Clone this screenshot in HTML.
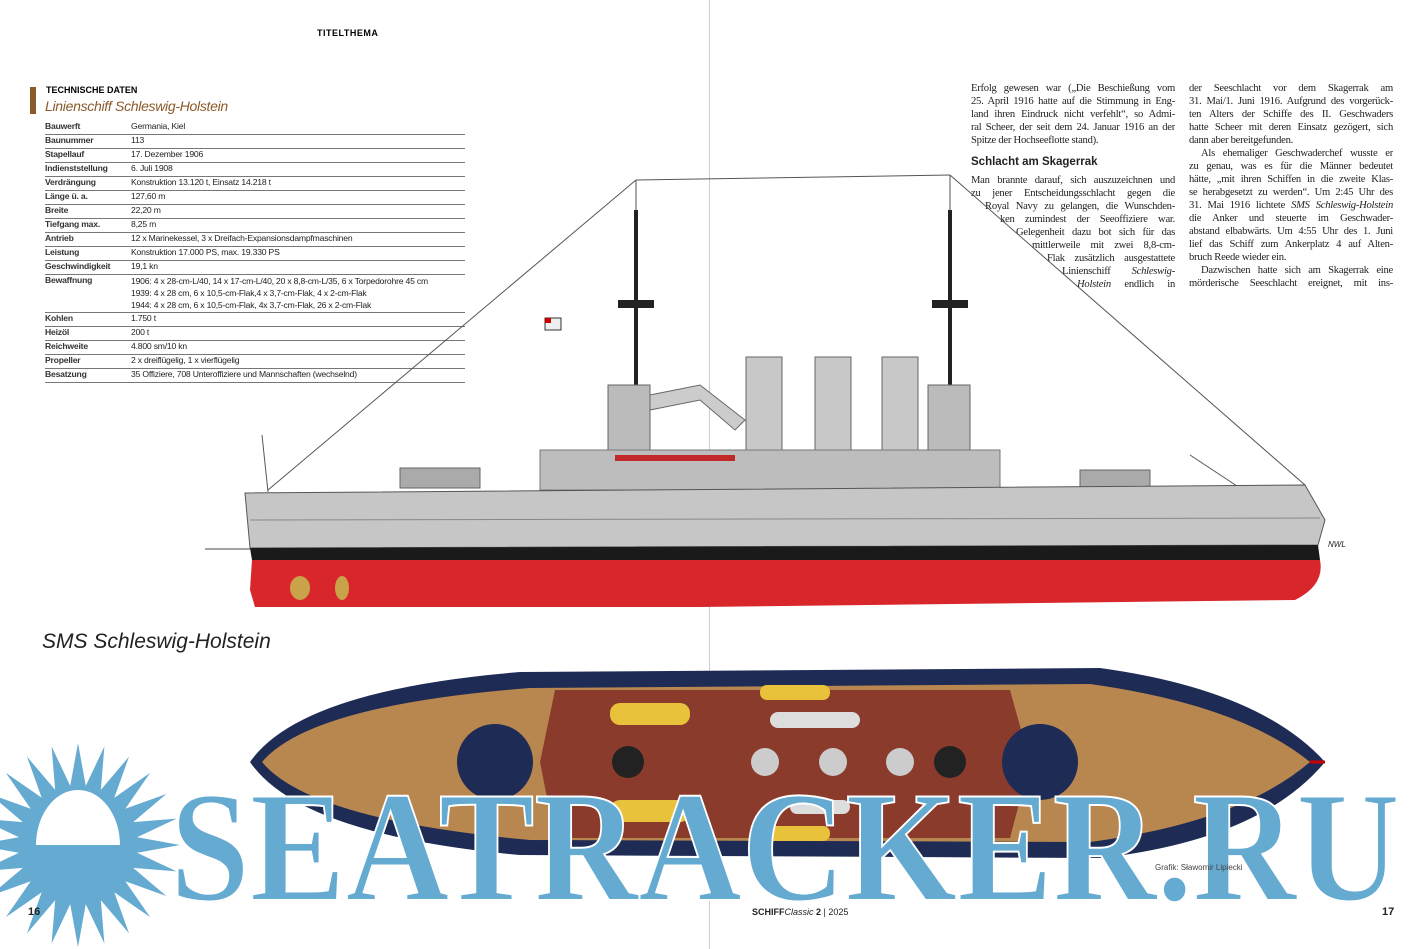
<!DOCTYPE html>
<html><head><meta charset="utf-8"><style>
body{margin:0;width:1423px;height:949px;overflow:hidden;background:#fff;font-family:"Liberation Sans",sans-serif;position:relative}
.a{position:absolute}
table{border-collapse:collapse;font-size:8.6px;color:#222;letter-spacing:-0.2px}
td{padding:0;height:13px;border-bottom:1px solid #777;vertical-align:top;white-space:nowrap}
td.k{width:86px;font-weight:bold;color:#333}
.col{font-family:"Liberation Serif",serif;font-size:10.6px;line-height:13px;color:#222;letter-spacing:-0.25px}
.col div{height:13px;overflow:hidden;text-align:justify;text-align-last:justify}
.col div.l{text-align-last:left}
</style></head><body>
<div class="a" style="left:709px;top:0;width:1px;height:949px;background:#ccc"></div>
<div class="a" style="left:317px;top:28px;font-size:9px;font-weight:bold;letter-spacing:.5px">TITELTHEMA</div>
<div class="a" style="left:30px;top:87px;width:6px;height:27px;background:#8a5a2a"></div>
<div class="a" style="left:46px;top:85px;font-size:9px;font-weight:bold">TECHNISCHE DATEN</div>
<div class="a" style="left:45px;top:98px;font-size:14px;font-style:italic;color:#8a5a2a;letter-spacing:-0.3px">Linienschiff Schleswig-Holstein</div>
<table class="a" style="left:45px;top:121px;width:420px">
<tr><td class="k">Bauwerft</td><td>Germania, Kiel</td></tr>
<tr><td class="k">Baunummer</td><td>113</td></tr>
<tr><td class="k">Stapellauf</td><td>17. Dezember 1906</td></tr>
<tr><td class="k">Indienststellung</td><td>6. Juli 1908</td></tr>
<tr><td class="k">Verdrängung</td><td>Konstruktion 13.120 t, Einsatz 14.218 t</td></tr>
<tr><td class="k">Länge ü. a.</td><td>127,60 m</td></tr>
<tr><td class="k">Breite</td><td>22,20 m</td></tr>
<tr><td class="k">Tiefgang max.</td><td>8,25 m</td></tr>
<tr><td class="k">Antrieb</td><td>12 x Marinekessel, 3 x Dreifach-Expansionsdampfmaschinen</td></tr>
<tr><td class="k">Leistung</td><td>Konstruktion 17.000 PS, max. 19.330 PS</td></tr>
<tr><td class="k">Geschwindigkeit</td><td>19,1 kn</td></tr>
<tr><td class="k" style="height:37px">Bewaffnung</td><td style="line-height:12px">1906: 4 x 28-cm-L/40, 14 x 17-cm-L/40, 20 x 8,8-cm-L/35, 6 x Torpedorohre 45 cm<br>1939: 4 x 28 cm, 6 x 10,5-cm-Flak,4 x 3,7-cm-Flak, 4 x 2-cm-Flak<br>1944: 4 x 28 cm, 6 x 10,5-cm-Flak, 4x 3,7-cm-Flak, 26 x 2-cm-Flak</td></tr>
<tr><td class="k">Kohlen</td><td>1.750 t</td></tr>
<tr><td class="k">Heizöl</td><td>200 t</td></tr>
<tr><td class="k">Reichweite</td><td>4.800 sm/10 kn</td></tr>
<tr><td class="k">Propeller</td><td>2 x dreiflügelig, 1 x vierflügelig</td></tr>
<tr><td class="k">Besatzung</td><td>35 Offiziere, 708 Unteroffiziere und Mannschaften (wechselnd)</td></tr>
</table>
<div class="a col" style="left:971px;top:82px;width:204px">
<div>Erfolg gewesen war („Die Beschießung vom</div>
<div>25. April 1916 hatte auf die Stimmung in Eng-</div>
<div>land ihren Eindruck nicht verfehlt“, so Admi-</div>
<div>ral Scheer, der seit dem 24. Januar 1916 an der</div>
<div class="l">Spitze der Hochseeflotte stand).</div>
</div>
<div class="a" style="left:971px;top:156px;font-size:11.5px;font-weight:bold;color:#222">Schlacht am Skagerrak</div>
<div class="a col" style="left:971px;top:174px;width:204px">
<div>Man brannte darauf, sich auszuzeichnen und</div>
<div>zu jener Entscheidungsschlacht gegen die</div>
<div style="margin-left:14px">Royal Navy zu gelangen, die Wunschden-</div>
<div style="margin-left:29px">ken zumindest der Seeoffiziere war.</div>
<div style="margin-left:45px">Gelegenheit dazu bot sich für das</div>
<div style="margin-left:61px">mittlerweile mit zwei 8,8-cm-</div>
<div style="margin-left:76px">Flak zusätzlich ausgestattete</div>
<div style="margin-left:91px">Linienschiff <i>Schleswig-</i></div>
<div style="margin-left:106px"><i>Holstein</i> endlich in</div>
</div>
<div class="a col" style="left:1189px;top:82px;width:204px">
<div>der Seeschlacht vor dem Skagerrak am</div>
<div>31. Mai/1. Juni 1916. Aufgrund des vorgerück-</div>
<div>ten Alters der Schiffe des II. Geschwaders</div>
<div>hatte Scheer mit deren Einsatz gezögert, sich</div>
<div class="l">dann aber bereitgefunden.</div>
<div style="padding-left:12px">Als ehemaliger Geschwaderchef wusste er</div>
<div>zu genau, was es für die Männer bedeutet</div>
<div>hätte, „mit ihren Schiffen in die zweite Klas-</div>
<div>se herabgesetzt zu werden“. Um 2:45 Uhr des</div>
<div>31. Mai 1916 lichtete <i>SMS Schleswig-Holstein</i></div>
<div>die Anker und steuerte im Geschwader-</div>
<div>abstand elbabwärts. Um 4:55 Uhr des 1. Juni</div>
<div>lief das Schiff zum Ankerplatz 4 auf Alten-</div>
<div class="l">bruch Reede wieder ein.</div>
<div style="padding-left:12px">Dazwischen hatte sich am Skagerrak eine</div>
<div>mörderische Seeschlacht ereignet, mit ins-</div>
</div>
<div class="a" style="left:42px;top:630px;font-size:21px;font-style:italic;color:#222">SMS Schleswig-Holstein</div>

<svg class="a" style="left:0;top:0" width="1423" height="949">
<g stroke="#555" stroke-width="1" fill="none">
<line x1="636" y1="180" x2="268" y2="490"/><line x1="636" y1="180" x2="950" y2="175"/>
<line x1="950" y1="175" x2="1305" y2="485"/>
<line x1="636" y1="180" x2="636" y2="470"/><line x1="950" y1="175" x2="950" y2="470"/>
<line x1="262" y1="435" x2="268" y2="492"/><line x1="1190" y1="455" x2="1240" y2="488"/>
</g>
<g stroke="#222" stroke-width="4"><line x1="636" y1="210" x2="636" y2="420"/><line x1="950" y1="210" x2="950" y2="420"/></g>
<rect x="618" y="300" width="36" height="8" fill="#222"/><rect x="932" y="300" width="36" height="8" fill="#222"/>
<rect x="545" y="318" width="16" height="12" fill="#eee" stroke="#333"/><rect x="545" y="318" width="6" height="5" fill="#c00"/>
<rect x="746" y="357" width="36" height="95" fill="#c8c8c8" stroke="#666"/>
<rect x="815" y="357" width="36" height="95" fill="#c8c8c8" stroke="#666"/>
<rect x="882" y="357" width="36" height="95" fill="#c8c8c8" stroke="#666"/>
<rect x="608" y="385" width="42" height="70" fill="#bbb" stroke="#666"/>
<rect x="928" y="385" width="42" height="70" fill="#bbb" stroke="#666"/>
<path d="M650 395 L700 385 L745 420 L735 430 L700 400 L650 410Z" fill="#ccc" stroke="#666"/>
<rect x="540" y="450" width="460" height="40" fill="#bdbdbd" stroke="#777"/>
<rect x="615" y="455" width="120" height="6" fill="#c0282a"/>
<rect x="400" y="468" width="80" height="20" fill="#aaa" stroke="#666"/>
<rect x="1080" y="470" width="70" height="20" fill="#aaa" stroke="#666"/>
<path d="M245 493 L1305 485 L1325 520 L1318 545 L250 548 Z" fill="#c6c6c6" stroke="#555"/>
<line x1="250" y1="520" x2="1320" y2="518" stroke="#888"/>
<path d="M250 548 L1318 545 L1320 560 L252 560Z" fill="#1a1a1a"/>
<path d="M252 560 L1320 560 Q1325 585 1295 600 L700 607 L255 607 L250 590Z" fill="#d8262a"/>
<line x1="205" y1="549" x2="250" y2="549" stroke="#444"/>
<text x="1328" y="547" font-size="8" font-style="italic" fill="#222">NWL</text>
<ellipse cx="300" cy="588" rx="10" ry="12" fill="#c9a24a"/><ellipse cx="342" cy="588" rx="7" ry="12" fill="#c9a24a"/>
<path d="M250 762 Q300 690 520 672 L1100 668 Q1260 690 1325 762 Q1260 840 1100 858 L520 855 Q300 835 250 762Z" fill="#1e2b55"/>
<path d="M262 762 Q310 705 530 688 L1090 684 Q1240 705 1310 762 Q1240 822 1090 842 L530 840 Q310 820 262 762Z" fill="#b8874f"/>
<path d="M555 690 L1010 690 L1030 762 L1010 838 L555 838 L540 762Z" fill="#8a3b2c"/>
<circle cx="495" cy="762" r="38" fill="#1e2b55"/><circle cx="1040" cy="762" r="38" fill="#1e2b55"/>
<circle cx="628" cy="762" r="16" fill="#222"/><circle cx="950" cy="762" r="16" fill="#222"/>
<rect x="610" y="703" width="80" height="22" rx="10" fill="#e8c23a"/><rect x="610" y="800" width="80" height="22" rx="10" fill="#e8c23a"/>
<rect x="760" y="685" width="70" height="15" rx="7" fill="#e8c23a"/><rect x="760" y="826" width="70" height="15" rx="7" fill="#e8c23a"/>
<rect x="770" y="712" width="90" height="16" rx="8" fill="#ddd"/><rect x="790" y="800" width="60" height="14" rx="7" fill="#ddd"/>
<circle cx="765" cy="762" r="14" fill="#ccc"/><circle cx="833" cy="762" r="14" fill="#ccc"/><circle cx="900" cy="762" r="14" fill="#ccc"/>
<line x1="1310" y1="762" x2="1325" y2="762" stroke="#c00" stroke-width="3"/>
<g fill="#65aad0">
<circle cx="78" cy="845" r="58"/>
<polygon points="68,798 88,798 78,743" transform="rotate(0 78 845)"/>
<polygon points="68,798 88,798 78,743" transform="rotate(15 78 845)"/>
<polygon points="68,798 88,798 78,743" transform="rotate(30 78 845)"/>
<polygon points="68,798 88,798 78,743" transform="rotate(45 78 845)"/>
<polygon points="68,798 88,798 78,743" transform="rotate(60 78 845)"/>
<polygon points="68,798 88,798 78,743" transform="rotate(75 78 845)"/>
<polygon points="68,798 88,798 78,743" transform="rotate(90 78 845)"/>
<polygon points="68,798 88,798 78,743" transform="rotate(105 78 845)"/>
<polygon points="68,798 88,798 78,743" transform="rotate(120 78 845)"/>
<polygon points="68,798 88,798 78,743" transform="rotate(135 78 845)"/>
<polygon points="68,798 88,798 78,743" transform="rotate(150 78 845)"/>
<polygon points="68,798 88,798 78,743" transform="rotate(165 78 845)"/>
<polygon points="68,798 88,798 78,743" transform="rotate(180 78 845)"/>
<polygon points="68,798 88,798 78,743" transform="rotate(195 78 845)"/>
<polygon points="68,798 88,798 78,743" transform="rotate(210 78 845)"/>
<polygon points="68,798 88,798 78,743" transform="rotate(225 78 845)"/>
<polygon points="68,798 88,798 78,743" transform="rotate(240 78 845)"/>
<polygon points="68,798 88,798 78,743" transform="rotate(255 78 845)"/>
<polygon points="68,798 88,798 78,743" transform="rotate(270 78 845)"/>
<polygon points="68,798 88,798 78,743" transform="rotate(285 78 845)"/>
<polygon points="68,798 88,798 78,743" transform="rotate(300 78 845)"/>
<polygon points="68,798 88,798 78,743" transform="rotate(315 78 845)"/>
<polygon points="68,798 88,798 78,743" transform="rotate(330 78 845)"/>
<polygon points="68,798 88,798 78,743" transform="rotate(345 78 845)"/>
</g>
<path d="M36 845 A42 55 0 0 1 120 845Z" fill="#fff"/>
<text x="170" y="900" font-family="Liberation Serif,serif" font-weight="bold" font-size="158" fill="#65aad0" stroke="#fff" stroke-width="2" textLength="1230" lengthAdjust="spacingAndGlyphs">SEATRACKER.RU</text>
<text x="1155" y="870" font-size="8" fill="#444">Grafik: Sławomir Lipiecki</text>
<text x="28" y="915" font-size="11" font-weight="bold" fill="#222">16</text>
<text x="1382" y="915" font-size="11" font-weight="bold" fill="#222">17</text>
<text x="752" y="915" font-size="9" fill="#222"><tspan font-weight="bold">SCHIFF</tspan><tspan font-style="italic">Classic</tspan> <tspan font-weight="bold">2</tspan> | 2025</text>
</svg>
</body></html>
